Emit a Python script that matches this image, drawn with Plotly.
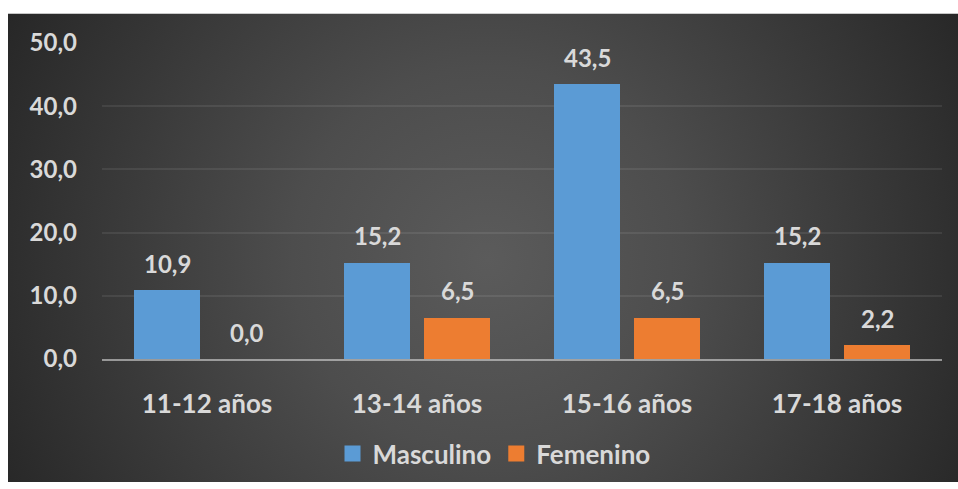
import base64
import plotly.graph_objects as go

categories = ["11-12 años", "13-14 años", "15-16 años", "17-18 años"]
masculino = [10.9, 15.2, 43.5, 15.2]
femenino = [0.0, 6.5, 6.5, 2.2]
y_ticks = [0, 10, 20, 30, 40, 50]
series_names = ["Masculino", "Femenino"]
series_colors = ["#5B9BD5", "#ED7D31"]

W, H = 958, 489
ML, MR, MT, MB = 102, 16, 43, 125
PW, PH = W - ML - MR, H - MT - MB

FONT = "Lato"
TXT = "#D9D9D9"

# radial gradient background for the chart area (x=8,y=13 to the window edges)
bx0, by0, bx1, by1 = 8, 13, W, H
bw, bh = bx1 - bx0, by1 - by0
svg = f'''<svg xmlns="http://www.w3.org/2000/svg" width="{bw}" height="{bh}" viewBox="0 0 {bw} {bh}" preserveAspectRatio="none">
<defs><radialGradient id="g" gradientUnits="userSpaceOnUse" cx="480" cy="250" r="560">
<stop offset="0" stop-color="#5b5b5b"/><stop offset="0.35" stop-color="#4d4d4d"/><stop offset="1" stop-color="#252525"/>
</radialGradient></defs><rect x="0" y="0" width="{bw}" height="{bh}" fill="url(#g)"/></svg>'''
src = "data:image/svg+xml;base64," + base64.b64encode(svg.encode()).decode()

def px_to_paper_x(px):
    return (px - ML) / PW

def px_to_paper_y(py):
    return (H - MB - py) / PH

fig = go.Figure()
for name, vals, col in zip(series_names, [masculino, femenino], series_colors):
    fig.add_trace(go.Bar(name=name, x=categories, y=vals, showlegend=False,
                         marker=dict(color=col, line=dict(width=0))))
# legend entries with larger square swatches
for name, col in zip(series_names, series_colors):
    fig.add_trace(go.Scatter(name=name, x=[categories[0]], y=[None], mode="markers",
                             marker=dict(symbol="square", size=16, color=col),
                             showlegend=True, hoverinfo="skip"))

def fmt(v):
    return f"{v:.1f}".replace(".", ",")

for vals, shift in ((masculino, -40), (femenino, 40)):
    for c, v in zip(categories, vals):
        fig.add_annotation(x=c, y=v, xref="x", yref="y", text=fmt(v),
                           showarrow=False, xshift=shift, yshift=27,
                           yanchor="middle",
                           font=dict(family=FONT, size=24, color=TXT, weight="bold"))

fig.update_layout(
    width=W, height=H, autosize=False,
    margin=dict(l=ML, r=MR, t=MT, b=MB, pad=0),
    paper_bgcolor="white", plot_bgcolor="rgba(0,0,0,0)",
    separators=",.",
    barmode="group", bargap=50 / 210, bargroupgap=0.175,
    font=dict(family=FONT, size=24, color=TXT, weight="bold"),
    images=[dict(source=src, xref="paper", yref="paper",
                 x=px_to_paper_x(bx0), y=px_to_paper_y(by0),
                 sizex=bw / PW, sizey=bh / PH,
                 xanchor="left", yanchor="top", sizing="stretch", layer="below")],
    legend=dict(orientation="h", x=px_to_paper_x(494), xanchor="center",
                y=px_to_paper_y(460), yanchor="middle", itemsizing="trace",
                font=dict(family=FONT, size=26, color=TXT, weight="bold"),
                bgcolor="rgba(0,0,0,0)", itemwidth=30),
    showlegend=True,
)
fig.update_xaxes(showgrid=False, showline=True, linecolor="rgba(217,217,217,0.6)",
                 linewidth=2, ticks="", ticklabelstandoff=21,
                 tickfont=dict(family=FONT, size=26, color=TXT, weight="bold"))
fig.update_yaxes(range=[0, 50], tickvals=y_ticks, tickformat=".1f",
                 showgrid=True, gridcolor="rgba(255,255,255,0.08)", gridwidth=2,
                 zeroline=False, showline=False, ticks="", ticklabelstandoff=24,
                 tickfont=dict(family=FONT, size=24, color=TXT, weight="bold"))

# pin the figure to the top-left corner of the window
fig.write_html(
    "out.html",
    config={"displayModeBar": False},
    post_script="document.body.style.margin='0';"
                "var d=document.getElementById('{plot_id}');"
                "d.style.position='fixed';d.style.left='0px';d.style.top='0px';",
)
